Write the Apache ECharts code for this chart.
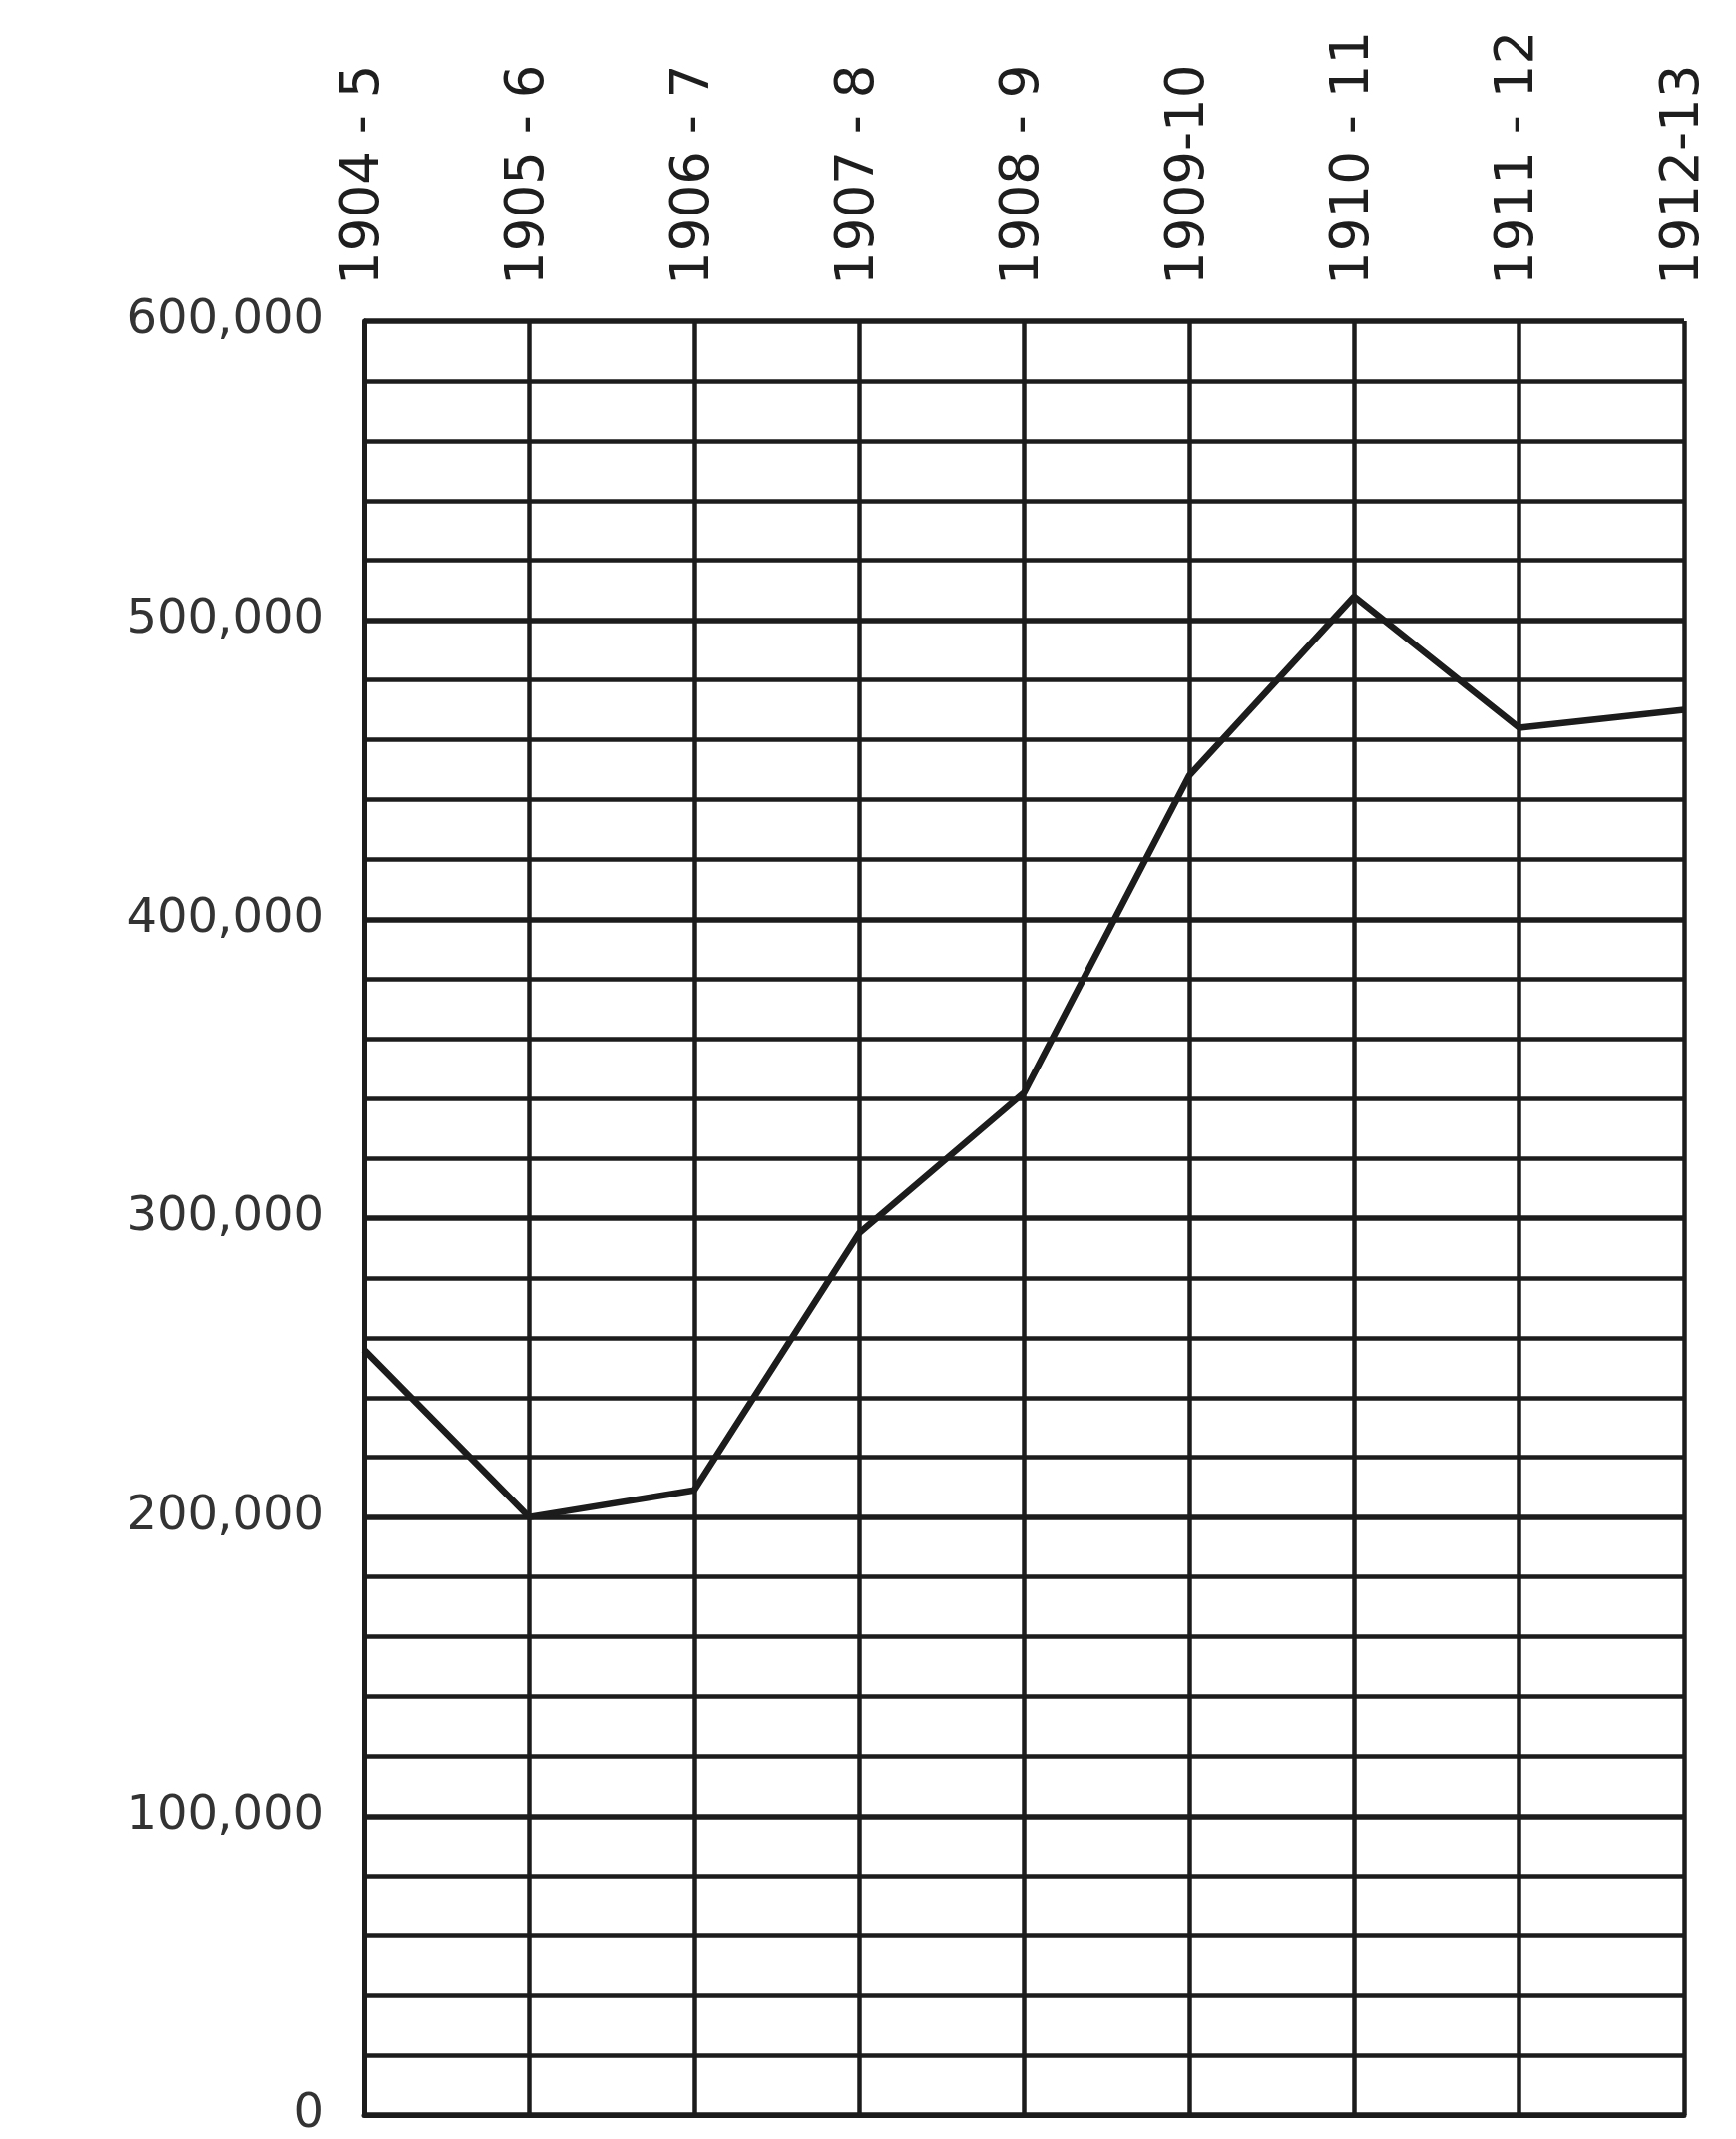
<!DOCTYPE html>
<html>
<head>
<meta charset="utf-8">
<script src="https://cdn.jsdelivr.net/npm/echarts@6/dist/echarts.min.js"></script>
<style>
html,body{margin:0;padding:0;background:#fff;}
#chart{width:1740px;height:2144px;}
</style>
</head>
<body>
<div id="chart"></div>
<script>
const categories = ["1904 - 5","1905 - 6","1906 - 7","1907 - 8","1908 - 9","1909-10","1910 - 11","1911 - 12","1912-13"];
const values = [256000, 200000, 209000, 295000, 342000, 448000, 508000, 464000, 470000];
const yTickLabels = {0:"0",100000:"100,000",200000:"200,000",300000:"300,000",400000:"400,000",500000:"500,000",600000:"600,000"};

const chart = echarts.init(document.getElementById('chart'), null, {renderer:'canvas'});
const ink = '#1c1c1c';
chart.setOption({
  backgroundColor:'#ffffff',
  animation:false,
  grid:{left:365, right:52, top:322, bottom:24, containLabel:false},
  xAxis:{
    type:'category',
    position:'top',
    data:categories,
    boundaryGap:false,
    axisLine:{show:true, lineStyle:{color:ink, width:5}},
    axisTick:{show:false},
    axisLabel:{rotate:90, margin:36, fontFamily:'DejaVu Sans', fontSize:53, color:'#1e1e1e', interval:0},
    splitLine:{show:true, lineStyle:{color:ink, width:4.5}}
  },
  yAxis:{
    type:'value',
    min:0, max:600000, interval:100000,
    axisLine:{show:true, lineStyle:{color:ink, width:5}},
    axisTick:{show:false},
    axisLabel:{margin:40, fontFamily:'DejaVu Sans', fontSize:48, color:'#333',
      formatter:function(v){return yTickLabels[v] !== undefined ? yTickLabels[v] : '';}},
    splitLine:{show:true, lineStyle:{color:ink, width:5.5}},
    minorTick:{show:false, splitNumber:5},
    minorSplitLine:{show:true, lineStyle:{color:ink, width:4.5}}
  },
  series:[{
    type:'line',
    data:values,
    symbol:'none',
    lineStyle:{color:ink, width:6.5},
    z:5
  }]
});
</script>
</body>
</html>
